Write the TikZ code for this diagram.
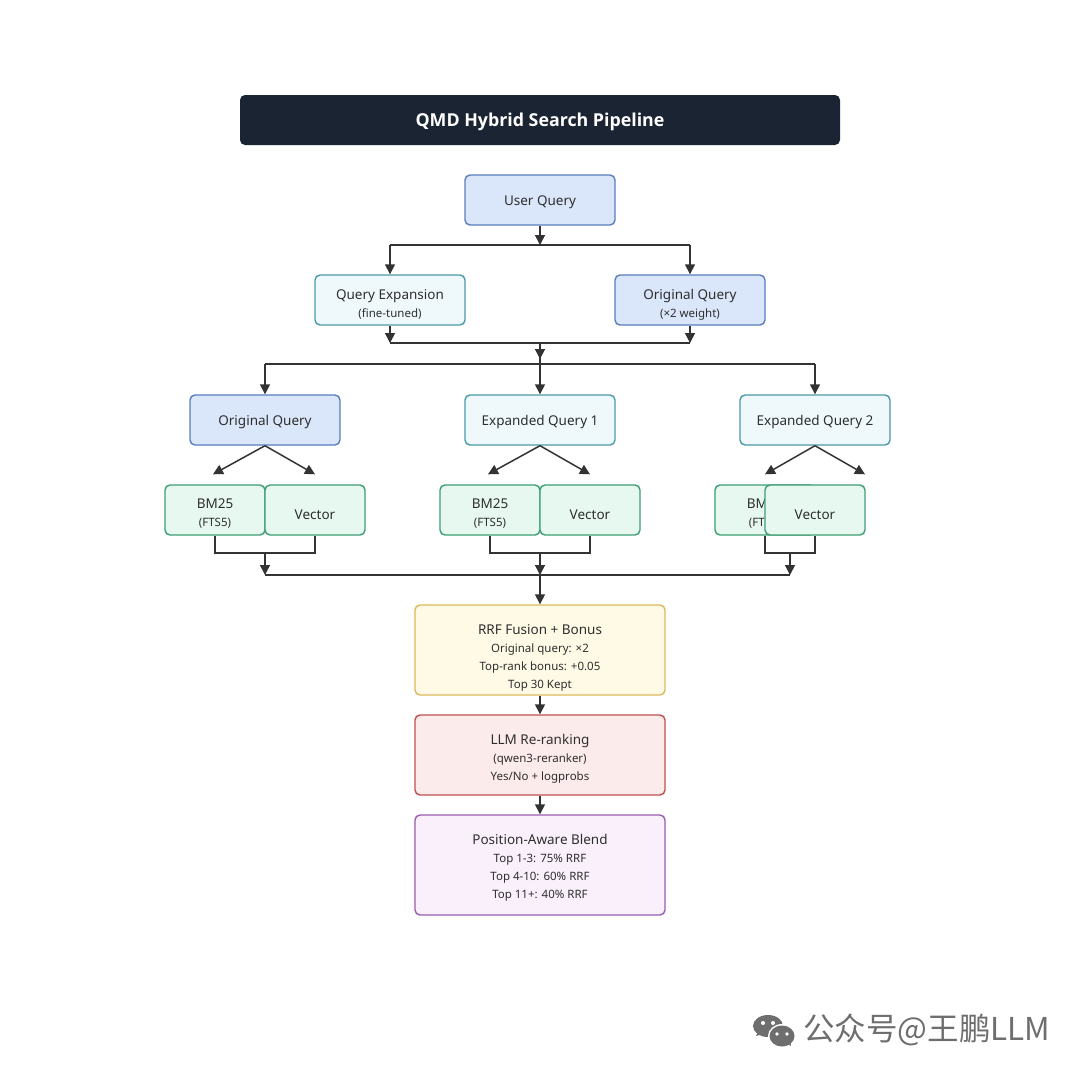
\documentclass[tikz,border=0pt]{standalone}
\usepackage{fontspec}
\setmainfont{Noto Sans}
\newfontfamily\titlefont{Open Sans}
\newfontfamily\cjkfont{Noto Sans CJK SC}
\usetikzlibrary{arrows.meta,calc}
\definecolor{txt}{HTML}{2E2E2E}
\definecolor{conn}{HTML}{333333}
\definecolor{titlebg}{HTML}{1B2433}
\definecolor{bluefill}{HTML}{DAE6F9}
\definecolor{blueline}{HTML}{5A7DBF}
\definecolor{cyanfill}{HTML}{EFF9FC}
\definecolor{cyanline}{HTML}{4A9BAA}
\definecolor{greenfill}{HTML}{E6F8F0}
\definecolor{greenline}{HTML}{3E9E74}
\definecolor{yelfill}{HTML}{FEFAE6}
\definecolor{yelline}{HTML}{DDB85A}
\definecolor{redfill}{HTML}{FCEBEB}
\definecolor{redline}{HTML}{C0504D}
\definecolor{purfill}{HTML}{FAF0FC}
\definecolor{purline}{HTML}{9A5BB0}
\definecolor{wmgray}{HTML}{6E6E6E}
\newcommand\subtxt[1]{{\fontsize{11.5}{18}\selectfont #1}}
\newcommand\sh[2]{\raisebox{-#1pt}[\height][\depth]{#2}}
\tikzset{
  box/.style={draw, rounded corners=5pt, line width=1.4pt, align=center, inner sep=0pt,
    text=txt, font=\fontsize{13.5}{18}\selectfont},
  qbox/.style={box, minimum width=150pt, minimum height=50pt},
  bluebox/.style={qbox, fill=bluefill, draw=blueline},
  cyanbox/.style={qbox, fill=cyanfill, draw=cyanline},
  greenbox/.style={box, fill=greenfill, draw=greenline, minimum width=100pt, minimum height=50pt},
  bigbox/.style={box, minimum width=250pt},
  conline/.style={draw=conn, line width=1.5pt},
  arr/.style={conline, -{Triangle[length=10pt,width=10pt]}},
}
\begin{document}
\begin{tikzpicture}[x=1pt,y=-1pt]
\useasboundingbox[fill=white] (0,0) rectangle (1080,1080);

% title
\node[fill=titlebg, rounded corners=5pt, minimum width=600pt, minimum height=50pt, inner sep=0pt,
  text=white, font=\titlefont\bfseries\fontsize{17.8}{20}\selectfont] (title) at (540,120) {\sh{1.5}{QMD Hybrid Search Pipeline}};

% nodes
\node[bluebox] (uq) at (540,200) {\sh{2}{User Query}};
\node[cyanbox] (qe) at (390,300) {\sh{4.5}{Query Expansion}\\\sh{4.5}{\subtxt{(fine-tuned)}}};
\node[bluebox] (oqa) at (690,300) {\sh{4.5}{Original Query}\\\sh{4.5}{\subtxt{(×2 weight)}}};

\node[bluebox] (oqb) at (265,420) {\sh{2}{Original Query}};
\node[cyanbox] (eqa) at (540,420) {\sh{2}{Expanded Query 1}};
\node[cyanbox] (eqb) at (815,420) {\sh{2}{Expanded Query 2}};

\node[greenbox] (bma) at (215,510) {\sh{4}{BM25}\\\sh{4}{\subtxt{(FTS5)}}};
\node[greenbox] (vea) at (315,510) {\sh{5}{Vector}};
\node[greenbox] (bmb) at (490,510) {\sh{4}{BM25}\\\sh{4}{\subtxt{(FTS5)}}};
\node[greenbox] (veb) at (590,510) {\sh{5}{Vector}};
\node[greenbox] (bmc) at (765,510) {\sh{4}{BM25}\\\sh{4}{\subtxt{(FTS5)}}};
\node[greenbox] (vec) at (815,510) {\sh{5}{Vector}};

\node[bigbox, minimum height=90pt, fill=yelfill, draw=yelline] (rrf) at (540,650)
  {\sh{8}{RRF Fusion + Bonus}\\\sh{8}{\subtxt{Original query: ×2}}\\\sh{8}{\subtxt{Top-rank bonus: +0.05}}\\\sh{8}{\subtxt{Top 30 Kept}}};
\node[bigbox, minimum height=80pt, fill=redfill, draw=redline] (llm) at (540,755)
  {\sh{4}{LLM Re-ranking}\\\sh{4}{\subtxt{(qwen3-reranker)}}\\\sh{4}{\subtxt{Yes/No + logprobs}}};
\node[bigbox, minimum height=100pt, fill=purfill, draw=purline] (pab) at (540,865)
  {\sh{3}{Position-Aware Blend}\\\sh{3}{\subtxt{Top 1-3: 75\% RRF}}\\\sh{3}{\subtxt{Top 4-10: 60\% RRF}}\\\sh{3}{\subtxt{Top 11+: 40\% RRF}}};

% junction coordinates
\coordinate (ja) at (540,245);
\coordinate (jb) at (540,343);
\coordinate (jc) at (540,364);
\coordinate (ka) at (265,553);
\coordinate (kb) at (540,553);
\coordinate (kc) at (790,553);
\coordinate (bus) at (540,575);

% connectors top
\draw[arr] (uq) -- (ja);
\draw[conline] (ja -| qe) -- (ja -| oqa);
\draw[arr] (ja -| qe) -- (qe);
\draw[arr] (ja -| oqa) -- (oqa);
\draw[arr] (qe) -- (jb -| qe);
\draw[arr] (oqa) -- (jb -| oqa);
\draw[conline] (jb -| qe) -- (jb -| oqa);
\draw[arr] (jb) -- ($(jc)+(0,-5)$);
\draw[conline] (jb) -- (jc);
\draw[conline] (jc -| oqb) -- (jc -| eqb);
\draw[arr] (jc -| oqb) -- (oqb);
\draw[arr] (jc) -- (eqa);
\draw[arr] (jc -| eqb) -- (eqb);

% diagonal arrows
\draw[arr] (oqb.south) -- ($(bma.north)+(-2,-10)$);
\draw[arr] (oqb.south) -- ($(vea.north)+(0,-10)$);
\draw[arr] (eqa.south) -- ($(bmb.north)+(-2,-10)$);
\draw[arr] (eqa.south) -- ($(veb.north)+(0,-10)$);
\draw[arr] (eqb.south) -- ($(bmc.north)+(0,-10)$);
\draw[arr] (eqb.south) -- ($(vec.north)+(50,-10)$);

% brackets
\draw[conline] (bma.south) -- (bma.south |- ka) -- (vea.south |- ka) -- (vea.south);
\draw[conline] (bmb.south) -- (bmb.south |- kb) -- (veb.south |- kb) -- (veb.south);
\draw[conline] (bmc.south) -- (bmc.south |- kc) -- (vec.south |- kc) -- (vec.south);
\draw[arr] (ka) -- (ka |- bus);
\draw[arr] (kb) -- (bus);
\draw[arr] (kc) -- (kc |- bus);
\draw[conline] (ka |- bus) -- (kc |- bus);
\draw[arr] (bus) -- (rrf);
\draw[arr] (rrf) -- (llm);
\draw[arr] (llm) -- (pab);

% watermark
\fill[wmgray] (768,1026) ellipse [x radius=15, y radius=11];
\fill[wmgray] (756,1036) -- (759,1030) -- (763,1034) -- cycle;
\fill[white] (782,1036) ellipse [x radius=14, y radius=12];
\fill[wmgray] (782,1036) ellipse [x radius=12.5, y radius=10.5];
\fill[wmgray] (791,1046) -- (786,1043) -- (790,1040) -- cycle;
\fill[white] (763,1023) circle (2);
\fill[white] (773,1023) circle (2);
\fill[white] (777,1034) circle (1.8);
\fill[white] (787,1034) circle (1.8);
\node[anchor=west, inner sep=0pt, text=wmgray, font=\cjkfont\fontsize{31.5}{33}\selectfont] (wm) at (803,1030) {公众号@王鹏LLM};
\end{tikzpicture}
\end{document}
